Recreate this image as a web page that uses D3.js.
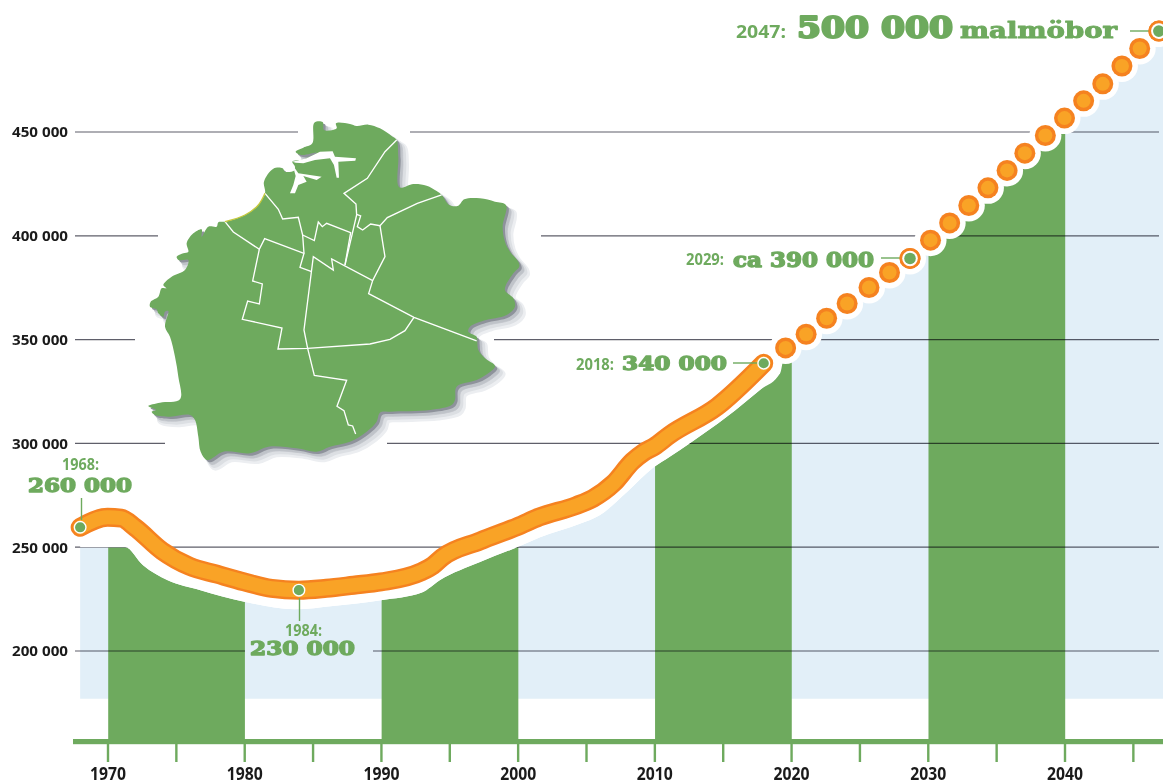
<!DOCTYPE html>
<html>
<head>
<meta charset="utf-8">
<style>
  html, body { margin: 0; padding: 0; background: #fff; }
  svg { display: block; }
  .tick-label { font-family: "Open Sans", sans-serif; font-weight: 700; fill: #1a1a1a; }
  .big { font-family: "DejaVu Serif", serif; font-weight: 700; fill: #6eaa5e; stroke: #6eaa5e; stroke-linejoin: round; }
  .year { font-family: "Open Sans", sans-serif; font-weight: 700; fill: #6eaa5e; }
</style>
<script src="https://cdn.jsdelivr.net/npm/d3@7"></script>
</head>
<body>
<div id="chart"></div>
<script>
// Population of Malmö
const historyYears = [1968, 1970, 1971, 1972, 1974, 1976, 1978, 1980, 1982, 1984, 1986, 1988, 1990, 1992.9, 1993.8, 1994.5, 1997.25, 2000, 2001.6, 2004.3, 2005.5, 2007, 2008.4, 2009.2, 2010, 2011.1, 2014.6, 2018];
const historyValues = [259600, 264400, 264000, 259600, 248200, 240800, 237000, 233300, 230200, 229300, 230200, 231700, 233300, 238000, 241200, 245200, 253000, 260000, 264600, 270100, 273500, 280700, 291400, 295600, 298500, 304000, 317800, 338600];

// Forecast, one dot per step
const forecastYears = [2019.6, 2021.1, 2022.6, 2024.1, 2025.7, 2027.2, 2028.7, 2030.2, 2031.6, 2033, 2034.4, 2035.8, 2037.1, 2038.6, 2040, 2041.4, 2042.8, 2044.2, 2045.5, 2046.9];
const forecastValues = [346000, 352600, 360300, 367400, 375100, 382300, 389100, 397900, 406200, 414600, 423100, 431500, 439800, 448300, 456700, 465000, 473200, 481800, 490200, 498600];

// Upper edge of the shaded area under the history line
const edgeYears = [1968, 1971.3, 1972.6, 1974.4, 1976.8, 1980, 1983.7, 1986.5, 1990, 1993, 1994.3, 1997.25, 2000, 2001.6, 2004.6, 2006, 2008, 2010, 2011.1, 2012.6, 2015.3, 2017.7, 2019.2];
const edgeValues = [250000, 250000, 241300, 234100, 229300, 223700, 220100, 221700, 224500, 228200, 234100, 242900, 250100, 254700, 261400, 265400, 276600, 288700, 293500, 300100, 312800, 325600, 333800];

const yTicks = [200000, 250000, 300000, 350000, 400000, 450000];
const xLabelTicks = [1970, 1980, 1990, 2000, 2010, 2020, 2030, 2040];
const xTicks = d3.range(1970, 2050, 5);
const greenDecades = [[1970, 1980], [1990, 2000], [2010, 2020], [2030, 2040]];
const shadeFloor = 177000;

// Map of the city, traced in 3x coordinates
const mapOutline = [[553,38],[578,36],[582,60],[620,55],[618,40],[660,42],[680,48],[715,44],[750,55],[785,78],[800,90],[805,140],[808,232],[850,222],[890,227],[920,243],[935,255],[958,285],[985,287],[1003,268],[1050,265],[1095,275],[1128,285],[1118,350],[1125,395],[1140,425],[1165,455],[1168,470],[1150,490],[1125,540],[1150,565],[1155,590],[1130,615],[1060,632],[1020,650],[1015,665],[1040,680],[1042,695],[1045,720],[1065,745],[1095,768],[1075,790],[1040,810],[980,830],[975,870],[965,885],[900,900],[780,905],[750,908],[740,935],[710,965],[660,995],[600,1010],[560,1025],[500,1015],[415,1010],[360,1030],[280,1025],[232,1050],[212,1025],[205,980],[195,930],[180,915],[120,920],[75,915],[65,905],[78,900],[55,888],[90,878],[150,868],[145,800],[135,740],[120,680],[105,650],[115,603],[105,605],[100,620],[85,610],[80,598],[60,590],[62,575],[85,560],[95,535],[110,535],[100,525],[125,500],[165,480],[175,450],[145,450],[140,440],[160,430],[175,425],[170,400],[190,370],[215,358],[215,380],[235,350],[260,350],[265,337],[285,335],[330,322],[375,295],[405,250],[402,215],[430,176],[458,175],[465,185],[492,182],[495,170],[487,155],[520,148],[560,128],[515,135],[497,125],[520,113],[547,100]];
const mapHarbours = [
  [[487,155],[530,145],[570,125],[608,124],[615,140],[678,145],[676,152],[625,155],[627,203],[620,203],[612,165],[600,145],[555,150],[520,160],[497,158]],
  [[488,165],[505,190],[575,200],[560,210],[520,198],[530,215],[505,225],[495,250],[480,250],[490,225],[497,198]]
];
const mapDistricts = [
  [[800,90],[765,125],[712,205],[642,250],[678,282],[680,315],[645,465]],
  [[935,255],[862,280],[772,323],[750,347],[722,342],[698,360],[682,350],[692,318],[680,313]],
  [[750,347],[765,440],[728,512],[605,447],[610,480],[550,440],[522,660],[533,715],[553,796],[650,811],[621,889],[642,902],[655,945],[668,948],[677,972]],
  [[728,512],[716,551],[852,622],[1040,693]],
  [[852,622],[825,662],[780,688],[720,702],[533,715],[444,717],[456,654],[337,628],[353,573],[388,582],[397,522],[368,513],[388,418],[404,386],[522,430],[510,472],[545,485]],
  [[285,335],[310,366],[388,418]],
  [[405,250],[445,298],[458,327],[505,322],[518,375],[522,430]],
  [[518,375],[553,392],[565,336],[577,350],[590,340],[662,368],[645,465]]
];
const mapCoast = [[285,335],[345,315],[385,285],[405,250]];

const width = 1163, height = 782;
const green = "#6eaa5e", blue = "#e2eff8", orange = "#f58220", amber = "#f9a326";
const axisY = 739;

const x = d3.scaleLinear().domain([1970, 2040]).range([107.5, 1064.5]);
const y = d3.scaleLinear().domain([200000, 450000]).range([651, 132]);

const svg = d3.select("#chart").append("svg")
  .attr("width", width)
  .attr("height", height)
  .attr("viewBox", `0 0 ${width} ${height}`);

const history = historyYears.map((d, i) => [d, historyValues[i]]);
const forecast = forecastYears.map((d, i) => [d, forecastValues[i]]);
const edge = edgeYears.map((d, i) => [d, edgeValues[i]]).concat(forecast, [[2047.5, forecastValues[forecastValues.length - 1] + 2500]]);

const shade = d3.area().curve(d3.curveMonotoneX).x(d => x(d[0])).y1(d => y(d[1]));

// Blue shade and green decades
svg.append("path")
  .attr("d", shade.y0(y(shadeFloor))(edge))
  .attr("fill", blue);

svg.append("clipPath").attr("id", "decades")
  .selectAll("rect").data(greenDecades).join("rect")
    .attr("x", d => x(d[0]) + 0.7)
    .attr("width", d => x(d[1]) - x(d[0]))
    .attr("y", 0)
    .attr("height", height);

svg.append("path")
  .attr("d", shade.y0(axisY)(edge))
  .attr("fill", green)
  .attr("clip-path", "url(#decades)");

// Grid lines, broken where the map and the labels sit
const gridGaps = {200000: [245, 373], 300000: [165, 387], 350000: [135, 494], 400000: [158, 541], 450000: [298, 410]};
const gridSegments = yTicks.flatMap(t => {
  const gap = gridGaps[t];
  return gap ? [[t, 75, gap[0]], [t, gap[1], 1159]] : [[t, 75, 1159]];
});
svg.append("g").selectAll("line").data(gridSegments).join("line")
  .attr("x1", d => d[1])
  .attr("x2", d => d[2])
  .attr("y1", d => y(d[0]))
  .attr("y2", d => y(d[0]))
  .attr("stroke", "#5f5f6a")
  .attr("stroke-width", 1.2)
  .style("mix-blend-mode", "multiply");

// White gap between the history line and the shade
const lineGen = d3.line().curve(d3.curveMonotoneX).x(d => x(d[0])).y(d => y(d[1]));
const edgeHistory = edgeYears.map((d, i) => [d, edgeValues[i]]);
svg.append("path")
  .attr("d", lineGen(history) + "L" + lineGen(edgeHistory.slice().reverse()).slice(1) + "Z")
  .attr("fill", "#fff");

// Halos round the forecast dots
svg.append("g").selectAll("circle").data(forecast).join("circle")
  .attr("cx", d => x(d[0]))
  .attr("cy", d => y(d[1]))
  .attr("r", 16)
  .attr("fill", "#fff");

// History band
svg.append("path").attr("d", lineGen(history))
  .attr("fill", "none").attr("stroke", orange).attr("stroke-width", 19).attr("stroke-linecap", "round");
svg.append("path").attr("d", lineGen(history))
  .attr("fill", "none").attr("stroke", amber).attr("stroke-width", 14).attr("stroke-linecap", "round");

// Forecast dots
const dots = svg.append("g").selectAll("g").data(forecast).join("g")
  .attr("transform", d => `translate(${x(d[0])},${y(d[1])})`);
dots.append("circle").attr("r", 10.5).attr("fill", orange);
dots.append("circle").attr("r", 7).attr("fill", amber);

// Map
const mapLine = d3.line().curve(d3.curveCatmullRomClosed.alpha(0.5));
const straight = d3.line();
const map = svg.append("g").attr("transform", "translate(130,110) scale(0.3333)");
[[24, 24, "#eceef1", 16], [20, 20, "#dcdfe3", 8], [14, 14, "#bfc3c9", 2], [7, 7, "#8e929b", 0]].forEach(s => {
  map.append("path").attr("d", mapLine(mapOutline))
    .attr("transform", `translate(${s[0]},${s[1]})`)
    .attr("fill", s[2])
    .attr("stroke", s[2])
    .attr("stroke-width", s[3])
    .attr("stroke-linejoin", "round");
});
map.append("path").attr("d", mapLine(mapOutline)).attr("fill", green);
map.selectAll(".harbour").data(mapHarbours).join("path")
  .attr("class", "harbour")
  .attr("d", d => straight(d) + "Z")
  .attr("fill", "#fff");
map.selectAll(".district").data(mapDistricts).join("path")
  .attr("class", "district")
  .attr("d", d => straight(d))
  .attr("fill", "none")
  .attr("stroke", "#fff")
  .attr("stroke-width", 4);
map.append("path").attr("d", d3.line().curve(d3.curveCatmullRom)(mapCoast))
  .attr("fill", "none").attr("stroke", "#c6c93c").attr("stroke-width", 4);

// Axes
const fmt = d => d3.format(",")(d).replace(/,/g, " ");
const yAxis = svg.append("g").attr("transform", "translate(68,0)")
  .call(d3.axisLeft(y).tickValues(yTicks).tickFormat(fmt).tickSize(0).tickPadding(0));
yAxis.select(".domain").remove();
yAxis.selectAll("text").attr("class", "tick-label").attr("font-size", 15)
  .attr("textLength", 56).attr("lengthAdjust", "spacingAndGlyphs");

svg.append("rect")
  .attr("x", 73).attr("y", axisY).attr("width", width - 73).attr("height", 5.2)
  .attr("fill", green);

const xAxis = svg.append("g").attr("transform", `translate(0,${axisY + 5})`)
  .call(d3.axisBottom(x).tickValues(xTicks).tickSize(18).tickPadding(4)
    .tickFormat(d => xLabelTicks.includes(d) ? d : ""));
xAxis.select(".domain").remove();
xAxis.selectAll("line").attr("stroke", green).attr("stroke-width", 2.4);
xAxis.selectAll("text").attr("class", "tick-label").attr("font-size", 18).attr("dy", 0)
  .attr("y", 35.5).attr("textLength", 36).attr("lengthAdjust", "spacingAndGlyphs");

// Annotations
const annotations = [
  {year: 1968, year_x: 80.5, year_y: 470, year_w: 37, num: "260 000", num_x: 28, num_y: 491.5, num_w: 104, size: 19, leader: [81.5, 498, 81.5, 520]},
  {year: 1984, year_x: 303.5, year_y: 636, year_w: 37, num: "230 000", num_x: 250, num_y: 655, num_w: 105, size: 19, leader: [299.5, 598, 299.5, 621]},
  {year: 2018, year_x: 595, year_y: 370, year_w: 38, num: "340 000", num_x: 622, num_y: 369.5, num_w: 105, size: 19, leader: [733, 363, 757, 363]},
  {year: 2029, year_x: 705, year_y: 265, year_w: 38, num: "ca 390 000", num_x: 733, num_y: 266.5, num_w: 141, size: 20, leader: [881, 258, 905, 258]}
];

annotations.forEach(a => {
  svg.append("line")
    .attr("x1", a.leader[0]).attr("y1", a.leader[1]).attr("x2", a.leader[2]).attr("y2", a.leader[3])
    .attr("stroke", green).attr("stroke-width", 1.4);
  svg.append("text").attr("class", "year")
    .attr("x", a.year_x).attr("y", a.year_y)
    .attr("text-anchor", "middle")
    .attr("font-size", 15.5)
    .attr("textLength", a.year_w).attr("lengthAdjust", "spacingAndGlyphs")
    .text(a.year + ":");
  svg.append("text").attr("class", "big")
    .attr("x", a.num_x).attr("y", a.num_y)
    .attr("font-size", a.size).attr("stroke-width", 1.4)
    .attr("textLength", a.num_w).attr("lengthAdjust", "spacingAndGlyphs")
    .text(a.num);
});

// Headline at the top
svg.append("line").attr("x1", 1130).attr("y1", 31).attr("x2", 1152).attr("y2", 31)
  .attr("stroke", green).attr("stroke-width", 1.4);
svg.append("text").attr("class", "year").attr("x", 736).attr("y", 38)
  .attr("font-size", 18.5).attr("textLength", 50).attr("lengthAdjust", "spacingAndGlyphs").text("2047:");
svg.append("text").attr("class", "big").attr("x", 797).attr("y", 38)
  .attr("font-size", 30).attr("stroke-width", 2.2)
  .attr("textLength", 156).attr("lengthAdjust", "spacingAndGlyphs").text("500 000");
svg.append("text").attr("class", "big").attr("x", 960).attr("y", 38)
  .attr("font-size", 23).attr("stroke-width", 1)
  .attr("textLength", 157).attr("lengthAdjust", "spacingAndGlyphs").text("malmöbor");

// Marked points sit on top of the line
const marked = [[1968, 259600], [1984, 229300], [2018, 338600]];
svg.append("g").selectAll("circle").data(marked).join("circle")
  .attr("cx", d => x(d[0]))
  .attr("cy", d => y(d[1]))
  .attr("r", 5.8)
  .attr("fill", green)
  .attr("stroke", "#fff")
  .attr("stroke-width", 1.4);

const ringed = [[2028.7, 389100], [2046.9, 498600]];
const rings = svg.append("g").selectAll("g").data(ringed).join("g")
  .attr("transform", d => `translate(${x(d[0])},${y(d[1])})`);
rings.append("circle").attr("r", 10.5).attr("fill", orange);
rings.append("circle").attr("r", 7.8).attr("fill", "#fff");
rings.append("circle").attr("r", 5.8).attr("fill", green);
</script>
</body>
</html>
